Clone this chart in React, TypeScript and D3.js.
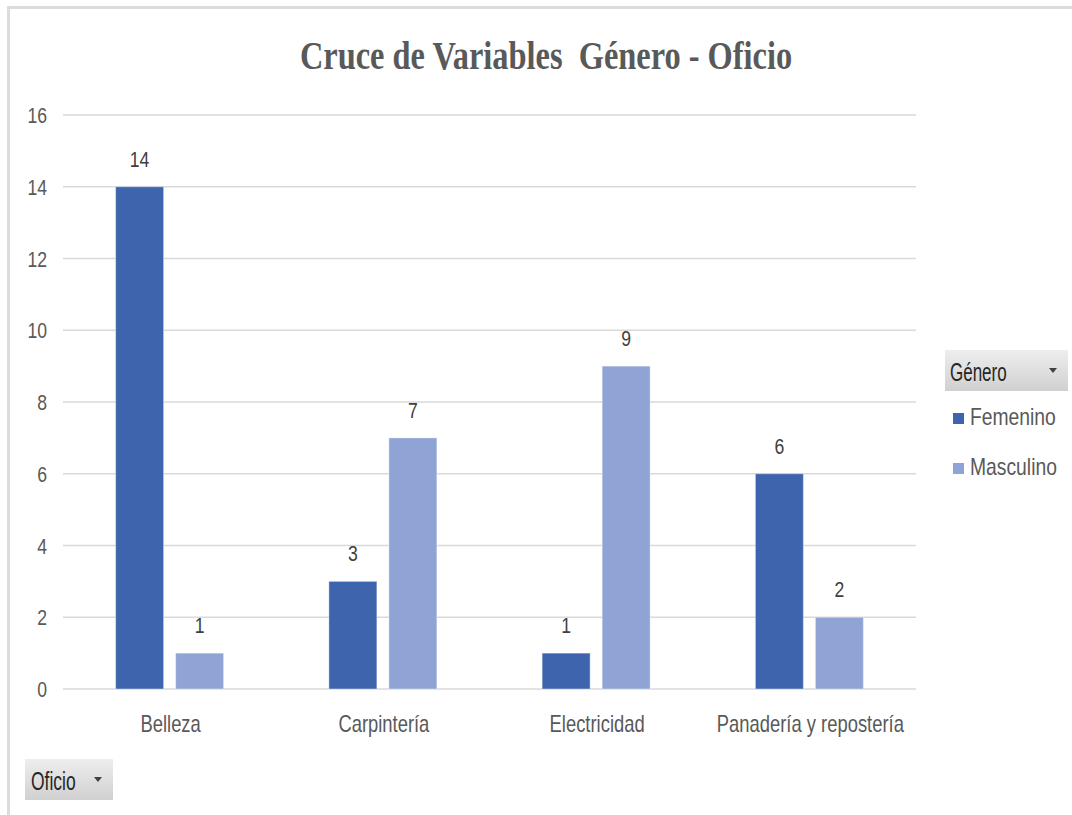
import React from "react";
import * as d3 from "d3";

const categories = ["Belleza", "Carpintería", "Electricidad", "Panadería y repostería"];
const seriesNames = ["Femenino", "Masculino"];
const femenino = [14, 3, 1, 6];
const masculino = [1, 7, 9, 2];
const yTicks = [0, 2, 4, 6, 8, 10, 12, 14, 16];
const titleText = "Cruce de Variables  Género - Oficio";
const legendTitle = "Género";
const axisFieldLabel = "Oficio";

const colors = ["#3d64ac", "#8fa4d5"];
const FONT = "'Liberation Sans', Arial, sans-serif";

function Txt({ x, y, size, sx = 1, anchor = "middle", fill = "#595959", children, family = FONT, weight = "normal" }: any) {
  return (
    <text
      transform={`translate(${x},${y}) scale(${sx},1)`}
      fontSize={size}
      fontFamily={family}
      fontWeight={weight}
      textAnchor={anchor}
      fill={fill}
      style={{ whiteSpace: "pre" }}
    >
      {children}
    </text>
  );
}

export default function App() {
  const W = 1072, H = 815;
  const left = 63, right = 916, top = 115, bottom = 689;
  const x0 = d3.scaleBand<string>().domain(categories).range([left, right]).paddingInner(0).paddingOuter(0);
  const x1 = d3.scaleBand<string>().domain(seriesNames).range([0, x0.bandwidth()]).paddingInner(0.2).paddingOuter(0.877);
  const y = d3.scaleLinear().domain([0, 16]).range([bottom, top]);
  const series = [femenino, masculino];

  return (
    <svg width={W} height={H} style={{ position: "absolute", left: 0, top: 0, display: "block", background: "#fff" }}>
      <defs>
        <linearGradient id="btn" x1="0" y1="0" x2="0" y2="1">
          <stop offset="0" stopColor="#eeeeee" />
          <stop offset="1" stopColor="#d0d0d0" />
        </linearGradient>
      </defs>
      <rect x={0} y={0} width={W} height={H} fill="#fff" />
      {/* frame */}
      <rect x={7} y={6} width={W - 7} height={3} fill="#dcdcdc" />
      <rect x={7} y={6} width={3} height={H - 6} fill="#dcdcdc" />

      <Txt x={546} y={69} size={40} family="'Liberation Serif', 'Times New Roman', serif" weight="bold" fill="#595959" sx={0.81}>
        {titleText}
      </Txt>

      {/* gridlines */}
      {yTicks.map((t) => (
        <line key={t} x1={left} x2={right} y1={y(t)} y2={y(t)} stroke="#d9d9d9" strokeWidth={1.5} />
      ))}
      {yTicks.map((t) => (
        <Txt key={"l" + t} x={47} y={y(t) + 8} size={22} sx={0.8} anchor="end">
          {t}
        </Txt>
      ))}

      {/* bars */}
      {categories.map((c, i) => (
        <g key={c}>
          {seriesNames.map((s, j) => {
            const v = series[j][i];
            const bx = (x0(c) as number) + (x1(s) as number);
            return (
              <g key={s}>
                <rect x={bx} y={y(v)} width={x1.bandwidth()} height={y(0) - y(v)} fill={colors[j]} stroke="#fff" strokeOpacity={0.4} strokeWidth={1} />
                <Txt x={bx + x1.bandwidth() / 2} y={y(v) - 20} size={22} sx={0.8} fill="#404040">
                  {v}
                </Txt>
              </g>
            );
          })}
          <Txt x={(x0(c) as number) + x0.bandwidth() / 2 + 1} y={732} size={23} sx={0.8}>
            {c}
          </Txt>
        </g>
      ))}

      {/* legend */}
      <rect x={945} y={350} width={123} height={41} fill="url(#btn)" />
      <Txt x={950} y={381} size={25} sx={0.68} anchor="start" fill="#262626">
        {legendTitle}
      </Txt>
      <path d="M1049,368 L1057,368 L1053,373 Z" fill="#404040" />
      {seriesNames.map((s, j) => (
        <g key={s}>
          <rect x={953} y={413 + j * 50} width={11} height={11} fill={colors[j]} />
          <Txt x={970} y={425 + j * 50} size={23} sx={0.84} anchor="start">
            {s}
          </Txt>
        </g>
      ))}

      {/* field button */}
      <rect x={25} y={759} width={88} height={41} fill="url(#btn)" />
      <Txt x={31} y={790} size={25} sx={0.7} anchor="start" fill="#262626">
        {axisFieldLabel}
      </Txt>
      <path d="M94,777 L102,777 L98,782 Z" fill="#404040" />
    </svg>
  );
}
